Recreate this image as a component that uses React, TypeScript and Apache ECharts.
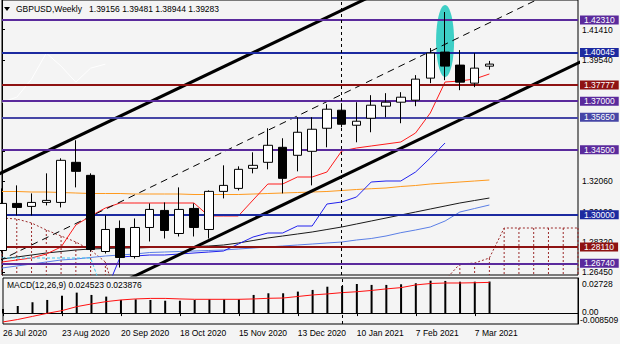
import React, { useEffect, useRef } from 'react';
import * as echarts from 'echarts';

const dates = [
  '26 Jul 2020', '2 Aug 2020', '9 Aug 2020', '16 Aug 2020', '23 Aug 2020', '30 Aug 2020', '6 Sep 2020', '13 Sep 2020',
  '20 Sep 2020', '27 Sep 2020', '4 Oct 2020', '11 Oct 2020', '18 Oct 2020', '25 Oct 2020', '1 Nov 2020', '8 Nov 2020',
  '15 Nov 2020', '22 Nov 2020', '29 Nov 2020', '6 Dec 2020', '13 Dec 2020', '20 Dec 2020', '27 Dec 2020', '3 Jan 2021',
  '10 Jan 2021', '17 Jan 2021', '24 Jan 2021', '31 Jan 2021', '7 Feb 2021', '14 Feb 2021', '21 Feb 2021', '28 Feb 2021',
  '7 Mar 2021', '14 Mar 2021', '21 Mar 2021', '28 Mar 2021', '4 Apr 2021', '11 Apr 2021', '18 Apr 2021', '25 Apr 2021',
];

const opens = [1.27790, 1.30694, 1.30509, 1.30756, 1.30756, 1.33228, 1.32424, 1.27729, 1.29150, 1.27420, 1.29211, 1.30262, 1.28840, 1.30385, 1.29088, 1.31436, 1.31621, 1.32857, 1.33228, 1.34154, 1.33660, 1.33907, 1.35328, 1.36440, 1.35514, 1.35946, 1.36688, 1.36935, 1.37058, 1.38418, 1.40024, 1.39221, 1.38109, 1.39156];
const closes = [1.30694, 1.30447, 1.30756, 1.30880, 1.33351, 1.32671, 1.27852, 1.29088, 1.27358, 1.29211, 1.30323, 1.29026, 1.30323, 1.29211, 1.31436, 1.31806, 1.32795, 1.33042, 1.34278, 1.32239, 1.35081, 1.35267, 1.36502, 1.35575, 1.35761, 1.36749, 1.36935, 1.37243, 1.38356, 1.39962, 1.39159, 1.38170, 1.39035, 1.39283];
const lows = [1.27667, 1.29953, 1.29953, 1.30571, 1.30447, 1.31683, 1.27729, 1.27605, 1.26740, 1.27296, 1.28347, 1.28532, 1.28655, 1.28655, 1.28532, 1.31003, 1.31498, 1.32548, 1.32795, 1.31312, 1.32671, 1.31806, 1.34154, 1.35390, 1.34463, 1.35081, 1.36008, 1.35637, 1.36688, 1.38109, 1.38294, 1.37676, 1.37861, 1.38944];
const highs = [1.31621, 1.31806, 1.31312, 1.32548, 1.33475, 1.34587, 1.32548, 1.29953, 1.29643, 1.29767, 1.30694, 1.30756, 1.31683, 1.30694, 1.31498, 1.33042, 1.32980, 1.33845, 1.35328, 1.34710, 1.36008, 1.36008, 1.36811, 1.36873, 1.36935, 1.37367, 1.37491, 1.37552, 1.38603, 1.40271, 1.42495, 1.40147, 1.39962, 1.39481];

const tenkan = [1.27082, 1.27206, 1.27329, 1.27575, 1.28007, 1.29363, 1.29918, 1.30411, 1.30719, 1.30719, 1.30719, 1.30719, 1.30719, 1.30719, 1.29918, 1.29918, 1.29918, 1.30904, 1.31891, 1.31891, 1.32322, 1.32322, 1.32630, 1.33925, 1.34110, 1.34234, 1.34357, 1.34480, 1.35035, 1.36268, 1.38179, 1.38241, 1.38364, 1.38673];
const kijun = [1.2500, 1.2500, 1.2500, 1.2500, 1.2500, 1.2500, 1.2500, 1.25171, 1.27390, 1.27452, 1.27514, 1.27514, 1.27575, 1.27637, 1.27698, 1.27760, 1.28191, 1.28623, 1.28870, 1.28870, 1.29301, 1.29301, 1.30657, 1.30781, 1.31089, 1.32014, 1.32076, 1.32076, 1.32630, 1.33494, 1.34419];
const maOrange = [1.31429, 1.31429, 1.31398, 1.31398, 1.31367, 1.31336, 1.31305, 1.31305, 1.31305, 1.31274, 1.31274, 1.31274, 1.31274, 1.31243, 1.31243, 1.31243, 1.31243, 1.31274, 1.31305, 1.31336, 1.31367, 1.31398, 1.31429, 1.31490, 1.31552, 1.31601, 1.31644, 1.31737, 1.31798, 1.31891, 1.31952, 1.32014, 1.32076, 1.32137];
const maBlack = [1.27267, 1.27390, 1.27514, 1.27637, 1.27729, 1.27822, 1.27883, 1.27914, 1.27945, 1.27945, 1.27976, 1.28007, 1.28007, 1.28038, 1.28068, 1.28130, 1.28253, 1.28407, 1.28562, 1.28685, 1.28808, 1.28932, 1.29086, 1.29240, 1.29425, 1.29610, 1.29795, 1.29980, 1.30164, 1.30349, 1.30534, 1.30719, 1.30874, 1.31027];
const maBlue = [1.26712, 1.26836, 1.26959, 1.27082, 1.27206, 1.27267, 1.27360, 1.27452, 1.27514, 1.27575, 1.27668, 1.27698, 1.27729, 1.27760, 1.27791, 1.27822, 1.27883, 1.27945, 1.28007, 1.28068, 1.28130, 1.28191, 1.28253, 1.28315, 1.28438, 1.28531, 1.28685, 1.28889, 1.29055, 1.29240, 1.29610, 1.30164, 1.30380, 1.30596];
const cyanDash = [1.27329, 1.27329, 1.27329, 1.27329, 1.27329, 1.27329, 1.27329, 1.2480];
const chikou = [1.36935, 1.37243, 1.38356, 1.39962, 1.39159, 1.38170, 1.39035, 1.39283];

const spanTop = [1.29795, 1.29733, 1.29487, 1.29055, 1.28685, 1.28315, 1.27822, 1.27082, 1.24, 1.24, 1.24, 1.24, 1.24, 1.24, 1.24, 1.24, 1.24, 1.24, 1.24, 1.24, 1.24, 1.24, 1.24, 1.24, 1.24, 1.24, 1.24, 1.24, 1.24, 1.24, 1.2597, 1.26959, 1.27020, 1.27329, 1.29178, 1.29178, 1.29178, 1.29178, 1.29178, 1.29178];
const spanBottom = [1.2450, 1.2450, 1.2450, 1.2450, 1.2450, 1.2450, 1.2450, 1.2450, 1.23, 1.23, 1.23, 1.23, 1.23, 1.23, 1.23, 1.23, 1.23, 1.23, 1.23, 1.23, 1.23, 1.23, 1.23, 1.23, 1.23, 1.23, 1.23, 1.23, 1.23, 1.23, 1.24, 1.24, 1.24, 1.24, 1.24, 1.24, 1.24, 1.24, 1.24, 1.24];

const macdHist = [0.0032, 0.0055, 0.0084, 0.0102, 0.0135, 0.0159, 0.0141, 0.0128, 0.0102, 0.0107, 0.0102, 0.0096, 0.0096, 0.0102, 0.0107, 0.0107, 0.0107, 0.0141, 0.0154, 0.0154, 0.0167, 0.0180, 0.0205, 0.0211, 0.0226, 0.0219, 0.0219, 0.0224, 0.0232, 0.0252, 0.0250, 0.0244, 0.0244, 0.024523];
const macdSignal = [-0.0069, -0.0050, -0.0026, -0.0002, 0.0019, 0.0050, 0.0071, 0.0089, 0.0102, 0.0110, 0.0114, 0.0114, 0.0110, 0.0107, 0.0107, 0.0107, 0.0107, 0.0110, 0.0115, 0.0117, 0.0129, 0.0141, 0.0149, 0.0159, 0.0166, 0.0176, 0.0188, 0.0198, 0.0219, 0.0230, 0.0234, 0.0234, 0.0236, 0.023876];

const priceTicks = [1.4141, 1.3954, 1.3393, 1.3206, 1.3019, 1.2832, 1.2645];
const levelValues = [1.4231, 1.40045, 1.37777, 1.37, 1.3565, 1.345, 1.3, 1.2811, 1.2674];
const levelColors = ['#5a2a9c', '#1c2aa0', '#8e1212', '#5a2a9c', '#4646a6', '#5a2a9c', '#1c2aa0', '#8e1212', '#5a2a9c'];
const bidPrice = 1.39283;
const macdLabels = ['0.02728', '0.00', '-0.008509'];
const macdRange = [-0.008509, 0.02728];

// trend lines: [barIndex, price]
const upperChannel = [[-1.566, 1.31915], [25.66, 1.43753]];
const lowerChannel = [[7.965, 1.25769], [40.64, 1.4006]];
const midChannel = [[-0.204, 1.27156], [37.92, 1.44005]];
const highlightBar = 30;
const highlightRange = [1.4292, 1.3848];
const separatorBar = 23;

const FONT = '"Liberation Sans", Arial, sans-serif';

export default function App() {
  const ref = useRef<HTMLDivElement>(null);
  useEffect(() => {
    document.body.style.margin = '0';
    const chart = echarts.init(ref.current!, null, { renderer: 'svg' });
    const candleData = opens.map((o, i) => [o, closes[i], lows[i], highs[i]]);
    const lineS = (data: any[], color: string, width = 1, type: any = 'solid', z = 3) => ({
      type: 'line', data, xAxisIndex: 0, yAxisIndex: 0, symbol: 'none', silent: true, z,
      lineStyle: { color, width, type }, connectNulls: false,
    });
    const trend = (data: number[][], width: number, type: any) => ({
      type: 'line', data, xAxisIndex: 2, yAxisIndex: 0, symbol: 'none', silent: true, z: 4,
      lineStyle: { color: '#000', width, type },
    });
    const dateInterval = (i: number) => i % 4 === 0 && i <= 32;
    const levelLabel = (text: string, bg: string) => ({
      show: true, position: 'end', distance: 2, formatter: text, color: '#fff', backgroundColor: bg,
      padding: [0, 4, 0, 4], lineHeight: 9, fontSize: 8.5, fontFamily: FONT,
    });

    const option: any = {
      animation: false,
      backgroundColor: '#f4f4f4',
      textStyle: { fontFamily: FONT },
      grid: [
        { left: 2, top: 0, width: 576, height: 275, show: true, borderColor: '#000', borderWidth: 1 },
        { left: 2, top: 278, width: 576, height: 46, show: true, borderColor: '#000', borderWidth: 1 },
      ],
      xAxis: [
        { type: 'category', gridIndex: 0, data: dates, boundaryGap: false, axisLabel: { show: false }, axisTick: { show: false }, axisLine: { show: false }, splitLine: { show: false } },
        {
          type: 'category', gridIndex: 1, data: dates, boundaryGap: false,
          axisLine: { show: true, lineStyle: { color: '#000' } },
          axisTick: { show: true, interval: dateInterval, length: 3, lineStyle: { color: '#000' } },
          axisLabel: { show: true, interval: dateInterval, align: 'left', margin: 4, fontSize: 8.5, color: '#000', fontFamily: FONT },
          splitLine: { show: false },
        },
        { type: 'value', gridIndex: 0, min: 0, max: 39, show: false },
      ],
      yAxis: [
        {
          type: 'value', gridIndex: 0, position: 'right', min: 1.26281, max: 1.43235,
          axisLine: { show: true, lineStyle: { color: '#000' } },
          axisTick: { show: true, length: 3, customValues: priceTicks, lineStyle: { color: '#000' } },
          axisLabel: { show: true, customValues: priceTicks, formatter: (v: number) => v.toFixed(5), fontSize: 8.5, lineHeight: 9, color: '#000', margin: 4, fontFamily: FONT },
          splitLine: { show: false },
        },
        {
          type: 'value', gridIndex: 1, position: 'right', min: macdRange[0], max: macdRange[1],
          axisLine: { show: true, lineStyle: { color: '#000' } }, axisTick: { show: false }, axisLabel: { show: false }, splitLine: { show: false },
        },
      ],
      series: [
        {
          type: 'line', data: dates.map(() => null), xAxisIndex: 0, yAxisIndex: 0, symbol: 'none', z: 1, silent: true,
          markLine: {
            silent: true, symbol: ['none', 'none'], animation: false,
            data: [
              ...levelValues.map((v, i) => ({
                yAxis: v,
                lineStyle: { color: levelColors[i], width: 2, type: 'solid' },
                label: levelLabel(v.toFixed(5), levelColors[i]),
              })),
              {
                yAxis: bidPrice,
                lineStyle: { color: '#000', width: 0, opacity: 0 },
                label: levelLabel(bidPrice.toFixed(5), '#000'),
              },
            ],
          },
        },
        {
          type: 'custom', xAxisIndex: 0, yAxisIndex: 0, z: 2, silent: true,
          data: spanTop.map((t, i) => [i, t, spanBottom[i]]),
          encode: { x: 0, y: [1, 2] },
          renderItem: (params: any, api: any) => {
            const cs = params.coordSys;
            const p1 = api.coord([api.value(0), api.value(1)]);
            const p2 = api.coord([api.value(0), api.value(2)]);
            const yTop = cs.y, yBot = cs.y + cs.height;
            let a = Math.min(p1[1], p2[1]), b = Math.max(p1[1], p2[1]);
            if (a > yBot || b < yTop) return null;
            a = Math.max(a, yTop); b = Math.min(b, yBot);
            if (p1[0] < cs.x || p1[0] > cs.x + cs.width) return null;
            return { type: 'line', shape: { x1: p1[0], y1: a, x2: p1[0], y2: b }, style: { stroke: '#9b2a2a', lineWidth: 1, lineDash: [2, 2] } };
          },
        },
        lineS(spanTop, '#9b2a2a', 1, [2, 2], 2),
        lineS(spanBottom, '#9b2a2a', 1, [2, 2], 2),
        lineS(maOrange, '#ff9a1e', 1),
        lineS(maBlack, '#1a1a1a', 1),
        lineS(maBlue, '#5b7fe6', 1),
        lineS(kijun, '#2222ee', 1),
        lineS(tenkan, '#ff1c1c', 1),
        lineS(cyanDash, '#3fc8f0', 1, [3, 2]),
        lineS(chikou, '#ffffff', 1),
        trend(upperChannel, 3, 'solid'),
        trend(lowerChannel, 3, 'solid'),
        trend(midChannel, 1, [7, 5]),
        {
          type: 'candlestick', xAxisIndex: 0, yAxisIndex: 0, data: candleData, barWidth: 9, z: 5, silent: true,
          itemStyle: { color: '#ffffff', color0: '#000000', borderColor: '#000000', borderColor0: '#000000', borderWidth: 1 },
          markLine: {
            silent: true, symbol: ['none', 'none'], animation: false, label: { show: false },
            data: [{ xAxis: separatorBar }],
            lineStyle: { color: '#000', width: 1, type: [3, 3] },
          },
        },
        {
          type: 'bar', xAxisIndex: 1, yAxisIndex: 1, data: macdHist, barWidth: 2, itemStyle: { color: '#000' }, silent: true,
          markLine: {
            silent: true, symbol: ['none', 'none'], animation: false, label: { show: false },
            data: [{ xAxis: separatorBar }],
            lineStyle: { color: '#000', width: 1, type: [3, 3] },
          },
        },
        { type: 'line', xAxisIndex: 1, yAxisIndex: 1, data: macdSignal, symbol: 'none', lineStyle: { color: '#ff1010', width: 1 }, silent: true },
      ],
    };
    chart.setOption(option);

    const cTop = chart.convertToPixel({ xAxisIndex: 0, yAxisIndex: 0 }, [highlightBar, highlightRange[0]]) as number[];
    const cBot = chart.convertToPixel({ xAxisIndex: 0, yAxisIndex: 0 }, [highlightBar, highlightRange[1]]) as number[];
    const mTop = chart.convertToPixel({ xAxisIndex: 1, yAxisIndex: 1 }, [0, macdRange[1]]) as number[];
    const mZero = chart.convertToPixel({ xAxisIndex: 1, yAxisIndex: 1 }, [0, 0]) as number[];
    const mBot = chart.convertToPixel({ xAxisIndex: 1, yAxisIndex: 1 }, [0, macdRange[0]]) as number[];

    chart.setOption({
      graphic: [
        {
          type: 'ellipse', z: 1.5, silent: true,
          shape: { cx: cTop[0], cy: (cTop[1] + cBot[1]) / 2, rx: 9, ry: (cBot[1] - cTop[1]) / 2 },
          style: { fill: '#3ecfc6' },
        },
        { type: 'polygon', z: 10, shape: { points: [[4, 7], [10, 7], [7, 11]] }, style: { fill: '#000' } },
        {
          type: 'text', z: 10, x: 16, y: 9,
          style: { text: 'GBPUSD,Weekly   1.39156 1.39481 1.38944 1.39283', fill: '#000', font: `8.5px ${FONT}`, verticalAlign: 'middle' },
        },
        {
          type: 'text', z: 10, x: 7, y: 285,
          style: { text: 'MACD(12,26,9) 0.024523 0.023876', fill: '#000', font: `8.5px ${FONT}`, verticalAlign: 'middle' },
        },
        { type: 'text', z: 10, x: 582, y: mTop[1] + 1, style: { text: macdLabels[0], fill: '#000', font: `8.5px ${FONT}`, verticalAlign: 'top' } },
        { type: 'text', z: 10, x: 582, y: mZero[1] - 1, style: { text: macdLabels[1], fill: '#000', font: `8.5px ${FONT}`, verticalAlign: 'middle' } },
        { type: 'text', z: 10, x: 580, y: mBot[1], style: { text: macdLabels[2], fill: '#000', font: `8.5px ${FONT}`, verticalAlign: 'bottom' } },
      ],
    });

    return () => chart.dispose();
  }, []);
  return <div ref={ref} style={{ position: 'absolute', left: 0, top: 0, width: 620, height: 344, background: '#f4f4f4' }} />;
}
